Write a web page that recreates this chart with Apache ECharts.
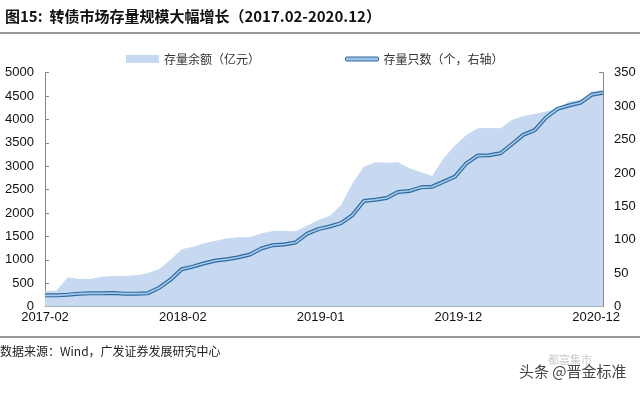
<!DOCTYPE html>
<html>
<head>
<meta charset="utf-8">
<script src="https://cdn.jsdelivr.net/npm/echarts@6/dist/echarts.min.js"></script>
<style>html,body{margin:0;padding:0;background:#fff;}#c{width:640px;height:393px;}</style>
</head>
<body>
<div id="c"></div>
<script>
// Tick labels on the category (month) axis
var tickLabels = ['2017-02', '2018-02', '2019-01', '2019-12', '2020-12'];
// 存量余额（亿元）— left axis
var balance = [342, 342, 628, 592, 592, 641, 656, 656, 670, 713,
               799, 1000, 1227, 1283, 1355, 1411, 1462, 1483, 1483, 1569,
               1618, 1618, 1610, 1732, 1853, 1939, 2174, 2637, 2993, 3086,
               3078, 3086, 2958, 2880, 2794, 3172, 3442, 3670, 3813, 3820,
               3813, 3991, 4077, 4119, 4170, 4240, 4383, 4418, 4596, 4632];
// 存量只数（个，右轴）— right axis
var count = [17, 17, 18, 19.5, 20, 20, 20.5, 19.5, 19.5, 20,
             28, 40, 56, 60, 65, 69, 71, 74, 78, 87,
             92, 93, 96, 109, 116, 120, 125, 137, 158, 160,
             162.5, 171.5, 173, 178.5, 179.5, 187, 194.5, 214.5, 226, 226.5,
             229.5, 243, 257, 264, 283, 296, 301, 305, 317, 320];
var nameBal = '存量余额（亿元）';
var nameCnt = '存量只数（个，右轴）';

function pairs(arr) { return arr.map(function (v, i) { return [i, v]; }); }
function plain(v) { return String(v); }

var TICK = 12.1;
var chart = echarts.init(document.getElementById('c'), null, { renderer: 'canvas' });
var fontCJK = '"Noto Sans CJK SC", "Noto Sans", sans-serif';
var fontNum = '"Liberation Sans", Arial, sans-serif';
chart.setOption({
  backgroundColor: '#fff',
  animation: false,
  title: {
    text: '图15:  转债市场存量规模大幅增长（2017.02-2020.12）',
    left: 0, top: 4,
    textStyle: { fontSize: 15, fontWeight: 'bold', color: '#111', fontFamily: fontCJK }
  },
  legend: [{
    left: 121, top: 48, itemWidth: 33, itemHeight: 8, itemGap: 5,
    data: [{ name: nameBal, icon: 'rect' }],
    textStyle: { fontSize: 12, color: '#333', fontFamily: fontCJK }
  }, {
    left: 340, top: 48, itemWidth: 33, itemHeight: 4,
    data: [{ name: nameCnt, icon: 'roundRect', itemStyle: { color: '#9cc2e5', borderColor: '#2e6aa3', borderWidth: 1 } }],
    textStyle: { fontSize: 12, color: '#333', fontFamily: fontCJK }
  }],
  grid: { left: 45, right: 37, top: 72.7, bottom: 86.3, containLabel: false },
  xAxis: {
    type: 'value', min: 0, max: balance.length - 1, interval: TICK,
    axisLine: { lineStyle: { color: '#888', width: 1 } },
    axisTick: { inside: true, length: 4, lineStyle: { color: '#888' } },
    splitLine: { show: false },
    axisLabel: {
      showMaxLabel: false, margin: 4,
      fontSize: 13, color: '#111', fontFamily: fontNum,
      formatter: function (v) { return tickLabels[Math.round(v / TICK)] || ''; }
    }
  },
  yAxis: [{
    type: 'value', min: 0, max: 5000, interval: 500,
    axisLine: { show: true, lineStyle: { color: '#888' } },
    axisTick: { show: true, inside: true, length: 4, lineStyle: { color: '#888' } },
    splitLine: { show: false },
    axisLabel: { margin: 11, fontSize: 13, color: '#111', fontFamily: fontNum, formatter: plain }
  }, {
    type: 'value', min: 0, max: 350, interval: 50,
    axisLine: { show: true, lineStyle: { color: '#888' } },
    axisTick: { show: true, inside: true, length: 4, lineStyle: { color: '#888' } },
    splitLine: { show: false },
    axisLabel: { margin: 11, fontSize: 13, color: '#111', fontFamily: fontNum, formatter: plain }
  }],
  series: [{
    name: nameBal, type: 'line', yAxisIndex: 0, data: pairs(balance),
    symbol: 'none', lineStyle: { width: 0 }, itemStyle: { color: '#c6d9f0' },
    areaStyle: { color: '#c6d9f0', opacity: 1 }
  }, {
    name: nameCnt, type: 'line', yAxisIndex: 1, data: pairs(count),
    symbol: 'none', itemStyle: { color: '#2e6aa3' },
    lineStyle: { width: 4, color: '#2e6aa3' }, z: 3
  }, {
    name: nameCnt, type: 'line', yAxisIndex: 1, data: pairs(count),
    symbol: 'none', itemStyle: { color: '#a9cbea' },
    lineStyle: { width: 1.6, color: '#a9cbea' }, z: 4
  }],
  graphic: [
    { type: 'rect', shape: { x: 0, y: 32, width: 640, height: 2 }, style: { fill: '#999' }, silent: true },
    { type: 'rect', shape: { x: 0, y: 336, width: 640, height: 2 }, style: { fill: '#999' }, silent: true },
    { type: 'text', left: 0, top: 345, style: { text: '数据来源：Wind，广发证券发展研究中心', fontSize: 12, fill: '#222', fontFamily: fontCJK } },
    { type: 'text', left: 548, top: 354, style: { text: '都富集市', fontSize: 11, fill: '#ccc', fontFamily: fontCJK } },
    { type: 'text', left: 519, top: 364, style: { text: '头条 @晋金标准', fontSize: 15, fill: '#444', fontFamily: fontCJK } }
  ]
});
</script>
</body>
</html>
